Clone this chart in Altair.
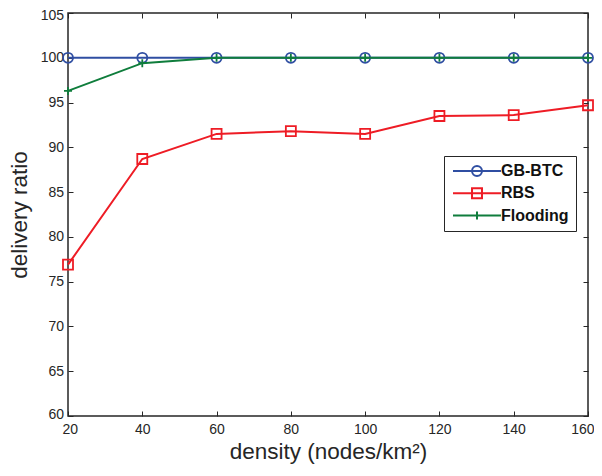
import altair as alt
import pandas as pd

density = [20, 40, 60, 80, 100, 120, 140, 160]
gb_btc = [100, 100, 100, 100, 100, 100, 100, 100]
rbs = [76.9, 88.7, 91.5, 91.8, 91.5, 93.5, 93.6, 94.7]
flooding = [96.3, 99.4, 100, 100, 100, 100, 100, 100]

series_names = ["GB-BTC", "RBS", "Flooding"]
series_colors = ["#2f4ea2", "#ee1c25", "#0f7d3c"]
x_ticks = [20, 40, 60, 80, 100, 120, 140, 160]
y_ticks = [60, 65, 70, 75, 80, 85, 90, 95, 100, 105]

rows = []
for name, vals in zip(series_names, [gb_btc, rbs, flooding]):
    for d, v in zip(density, vals):
        rows.append({"density": d, "ratio": v, "series": name})
df = pd.DataFrame(rows)

FONT = "Liberation Sans"
INK = "#262626"

color_scale = alt.Scale(domain=series_names, range=series_colors)
x_scale = alt.Scale(domain=[20, 160], nice=False, zero=False)
y_scale = alt.Scale(domain=[60, 105], nice=False, zero=False)

common_axis = dict(offset=-5, tickSize=5, domain=False, grid=False,
                   tickColor=INK, tickWidth=1, labelFont=FONT, labelFontSize=14,
                   labelColor=INK, labelOverlap=False)

x_bottom = alt.Axis(orient="bottom", values=x_ticks, labelPadding=6,
                    labelFlush=True, labelFlushOffset=6,
                    title="density (nodes/km²)", titleFont=FONT, titleFontSize=22.5,
                    titleFontWeight="normal", titleColor=INK, titleY=47.5,
                    titleBaseline="alphabetic", **common_axis)
y_left = alt.Axis(orient="left", values=y_ticks, labelPadding=4.5,
                  labelFlush=True, labelFlushOffset=5,
                  title="delivery ratio", titleFont=FONT, titleFontSize=22.5,
                  titleFontWeight="normal", titleColor=INK, titleX=-47,
                  titleBaseline="alphabetic", **common_axis)
x_top = alt.Axis(orient="top", values=x_ticks, labels=False, title=None, **common_axis)
y_right = alt.Axis(orient="right", values=y_ticks, labels=False, title=None, **common_axis)

def X(axis=None):
    return alt.X("density:Q", scale=x_scale, axis=axis)

def Y(axis=None):
    return alt.Y("ratio:Q", scale=y_scale, axis=axis)

def C():
    return alt.Color("series:N", scale=color_scale)

base = alt.Chart(df)

legend_paths = [
    "M-4,0H4M0.83,0A0.83,0.83 0 1,1 -0.83,0A0.83,0.83 0 1,1 0.83,0",
    "M-4,0H4M-0.83,-0.83H0.83V0.83H-0.83Z",
    "M-4,0H4M0,-0.67V0.67",
]
leg = alt.Legend(orient="none", legendX=376, legendY=143, title=None, padding=7,
                 strokeColor=INK, fillColor="white", symbolSize=144,
                 symbolStrokeWidth=2, symbolOpacity=1, symbolOffset=18,
                 symbolFillColor="transparent",
                 labelOffset=16, labelFont=FONT, labelFontSize=16,
                 labelFontWeight="bold", labelColor="#111111", rowPadding=4.3)

legend_layer = base.mark_point(opacity=0, filled=False).encode(
    x=X(), y=Y(),
    color=alt.Color("series:N", scale=color_scale, legend=leg),
    shape=alt.Shape("series:N", scale=alt.Scale(domain=series_names, range=legend_paths), legend=leg),
)

marker_shapes = {"GB-BTC": ("circle", 100), "RBS": ("square", 100),
                 "Flooding": ("M-1,0H1M0,-1V1", 64)}

layers = [legend_layer]
for i, name in enumerate(series_names):
    line = base.transform_filter(alt.datum.series == name).mark_line(strokeWidth=2).encode(
        x=X(x_bottom if i == 0 else None), y=Y(y_left if i == 0 else None), color=C())
    shp, sz = marker_shapes[name]
    pts = base.transform_filter(alt.datum.series == name).mark_point(
        shape=shp, size=sz, filled=False, strokeWidth=1.8, opacity=1).encode(
        x=X(x_top if i == 0 else None), y=Y(y_right if i == 0 else None), color=C())
    layers += [line, pts]

chart = alt.layer(*layers).resolve_axis(x="independent", y="independent").properties(
    width=520, height=403,
    padding={"left": 60, "top": 5, "right": 6, "bottom": 48},
    autosize="none",
    background="white",
).configure_view(stroke=INK, strokeWidth=1.5)

chart.save("out.html", embed_options={"renderer": "svg", "actions": False})
